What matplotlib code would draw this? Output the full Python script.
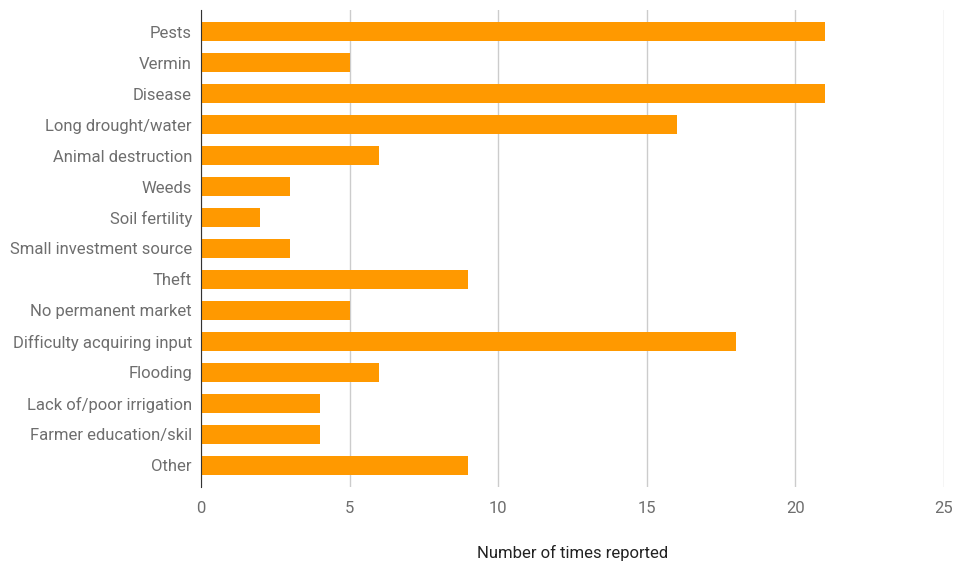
import matplotlib.pyplot as plt
import numpy as np

categories = ['Pests', 'Vermin', 'Disease', 'Long drought/water', 'Animal destruction',
              'Weeds', 'Soil fertility', 'Small investment source', 'Theft',
              'No permanent market', 'Difficulty acquiring input', 'Flooding',
              'Lack of/poor irrigation', 'Farmer education/skil', 'Other']
counts = [21, 5, 21, 16, 6, 3, 2, 3, 9, 5, 18, 6, 4, 4, 9]
x_ticks = [0, 5, 10, 15, 20, 25]

plt.rcParams['font.family'] = ['Roboto', 'DejaVu Sans']

fig = plt.figure(figsize=(9.56, 5.71), dpi=100)
ax = fig.add_axes([201 / 956, 1 - 487 / 571, 743 / 956, 477 / 571])

y = np.arange(len(categories))
ax.barh(y, counts, height=0.62, color='#ff9900', zorder=3)

ax.set_xlim(0, 25)
ax.set_ylim(len(categories) - 0.3, -0.7)
ax.set_yticks(y)
ax.set_yticklabels(categories, fontsize=12, color='#6e6e6e')
ax.set_xticks(x_ticks)
ax.set_xticklabels([str(t) for t in x_ticks], fontsize=12, color='#6e6e6e')
ax.tick_params(axis='both', length=0)
ax.tick_params(axis='y', pad=6.5)
ax.tick_params(axis='x', pad=10)

ax.grid(axis='x', color='#cccccc', linewidth=1, zorder=0)
for side in ['top', 'right', 'bottom']:
    ax.spines[side].set_visible(False)
ax.spines['left'].set_color('#333333')
ax.spines['left'].set_zorder(4)

ax.set_xlabel('Number of times reported', fontsize=12, color='#222222', labelpad=21)

fig.savefig('out.png', dpi=100)
